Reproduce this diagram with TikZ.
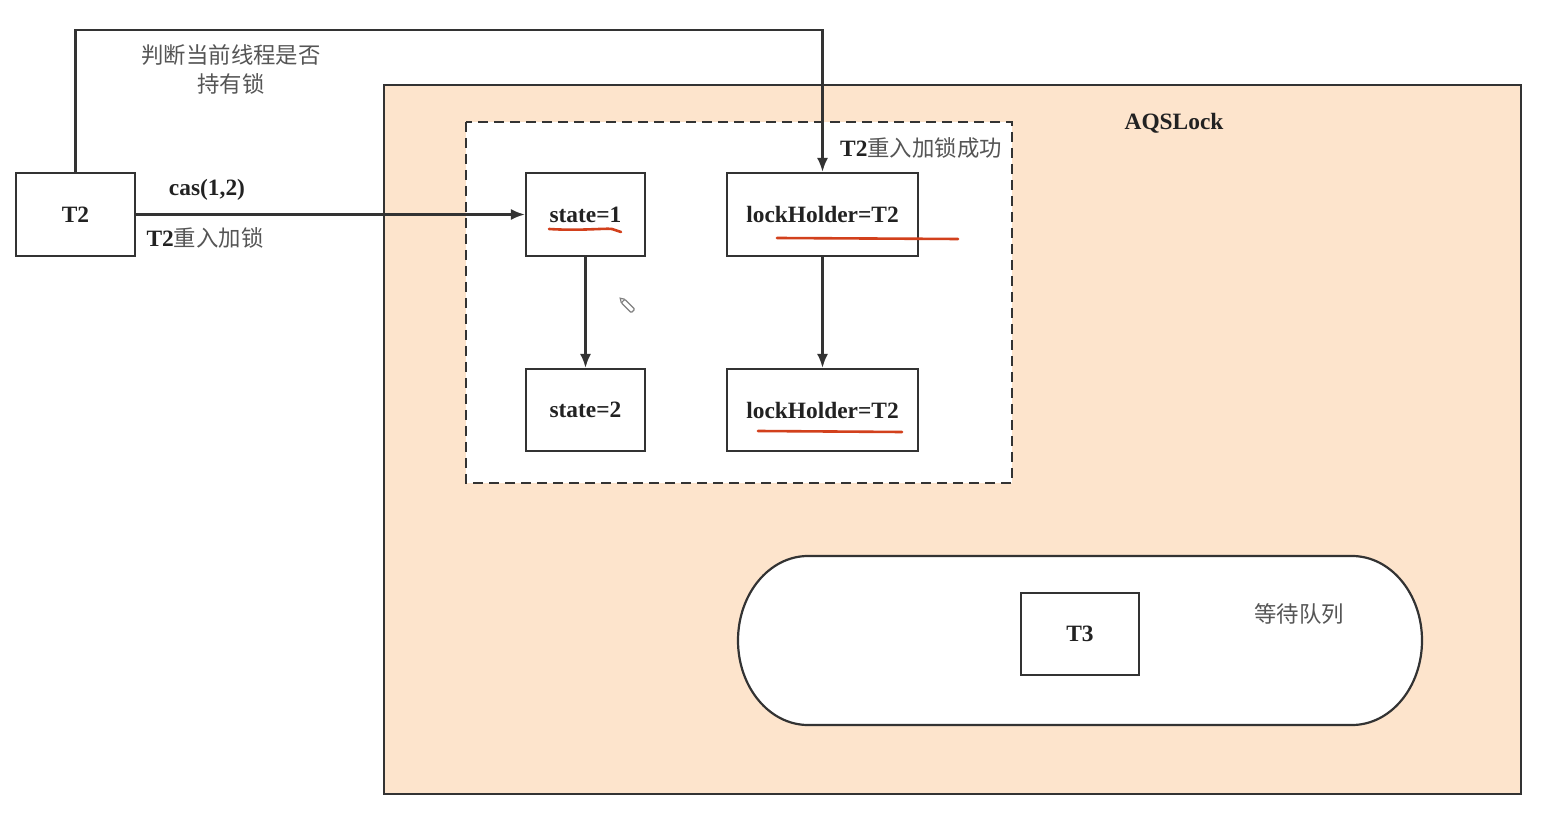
\documentclass[tikz,border=0pt]{standalone}
\usepackage{fontspec}
\setmainfont{Liberation Serif}
\newfontfamily\cjk{Noto Sans CJK SC}
\usetikzlibrary{arrows.meta}
\definecolor{peach}{HTML}{FDE4CC}
\definecolor{edge}{HTML}{333333}
\definecolor{txt}{HTML}{222222}
\definecolor{cjkgray}{HTML}{555555}
\definecolor{marker}{HTML}{D2401C}
\newcommand{\cjktext}[1]{{\mdseries\cjk\color{cjkgray}\fontsize{11.2}{14.5}\selectfont #1}}
\tikzset{
  every node/.style={font=\fontsize{11.7}{14.5}\selectfont\bfseries, text=txt},
  box/.style={draw=edge, line width=1.1pt, fill=white, rectangle, inner sep=0pt},
  arr/.style={draw=edge, line width=1.1pt, -{Latex[length=7pt,width=5.5pt]}},
  lbl/.style={inner sep=0pt},
  cjklbl/.style={inner sep=0pt, font=\fontsize{11.2}{14.5}\selectfont\cjk, text=cjkgray},
  redline/.style={draw=marker, line width=1.3pt, line cap=round}
}
\begin{document}
\begin{tikzpicture}[x=0.5pt,y=-0.5pt]
\useasboundingbox (0,0) rectangle (1546,817);
% AQSLock container
\path[fill=peach, draw=edge, line width=1.1pt] (384,85) rectangle (1521,794);
\node[lbl] (aqs) at (1174,123) {AQSLock};
% dashed group
\path[fill=white, draw=edge, line width=1.1pt, dash pattern=on 5pt off 3pt] (466,122) rectangle (1012,483);
% nodes
\node[box, minimum width=59.5pt, minimum height=41.5pt] (t2) at (75.5,214.5) {T2};
\node[box, minimum width=59.5pt, minimum height=41.5pt] (s1) at (585.5,214.5) {state=1};
\node[box, minimum width=95.5pt, minimum height=41.5pt] (lh1) at (822.5,214.5) {lockHolder=T2};
\node[box, minimum width=59.5pt, minimum height=41pt] (s2) at (585.5,410) {state=2};
\node[box, minimum width=95.5pt, minimum height=41pt] (lh2) at (822.5,410) {lockHolder=T2};
% waiting queue pill
\path[fill=white, draw=edge, line width=1.1pt] (808,556) -- (1352,556) arc[start angle=-90, end angle=90, x radius=70, y radius=84.5] -- (808,725) arc[start angle=90, end angle=270, x radius=70, y radius=84.5] -- cycle;
\node[box, minimum width=59pt, minimum height=41pt] (t3) at (1080,634) {T3};
\node[cjklbl] (queue) at (1299,614) {等待队列};
% connectors
\coordinate (bend) at (822.5,30);
\draw[arr] (t2.north) |- (bend) -- (lh1.north);
\draw[arr] (t2.east) -- (s1.west);
\draw[arr] (s1.south) -- (s2.north);
\draw[arr] (lh1.south) -- (lh2.north);
% labels
\node[cjklbl, align=center] (judge) at (231,69) {判断当前线程是否\\持有锁};
\node[lbl] (cas) at (207,190) {cas(1,2)};
\node[lbl] (reent) at (205,238) {T2\cjktext{重入加锁}};
\node[lbl] (ok) at (921,148) {T2\cjktext{重入加锁成功}};
% red marker underlines
\draw[redline] (549,229) .. controls (580,231) and (605,228) .. (612,229) -- (621,232);
\draw[redline] (777,238) -- (958,239);
\draw[redline] (758,431) -- (902,432);
% pencil cursor
\begin{scope}[shift={(628,306)}, rotate=-45]
\draw[draw=gray, line width=0.6pt, fill=white, rounded corners=0.5pt] (-7,-2.5) rectangle (7,2.5);
\draw[draw=gray, line width=0.6pt] (-7,-2.5) -- (-11,0) -- (-7,2.5);
\end{scope}
\end{tikzpicture}
\end{document}
